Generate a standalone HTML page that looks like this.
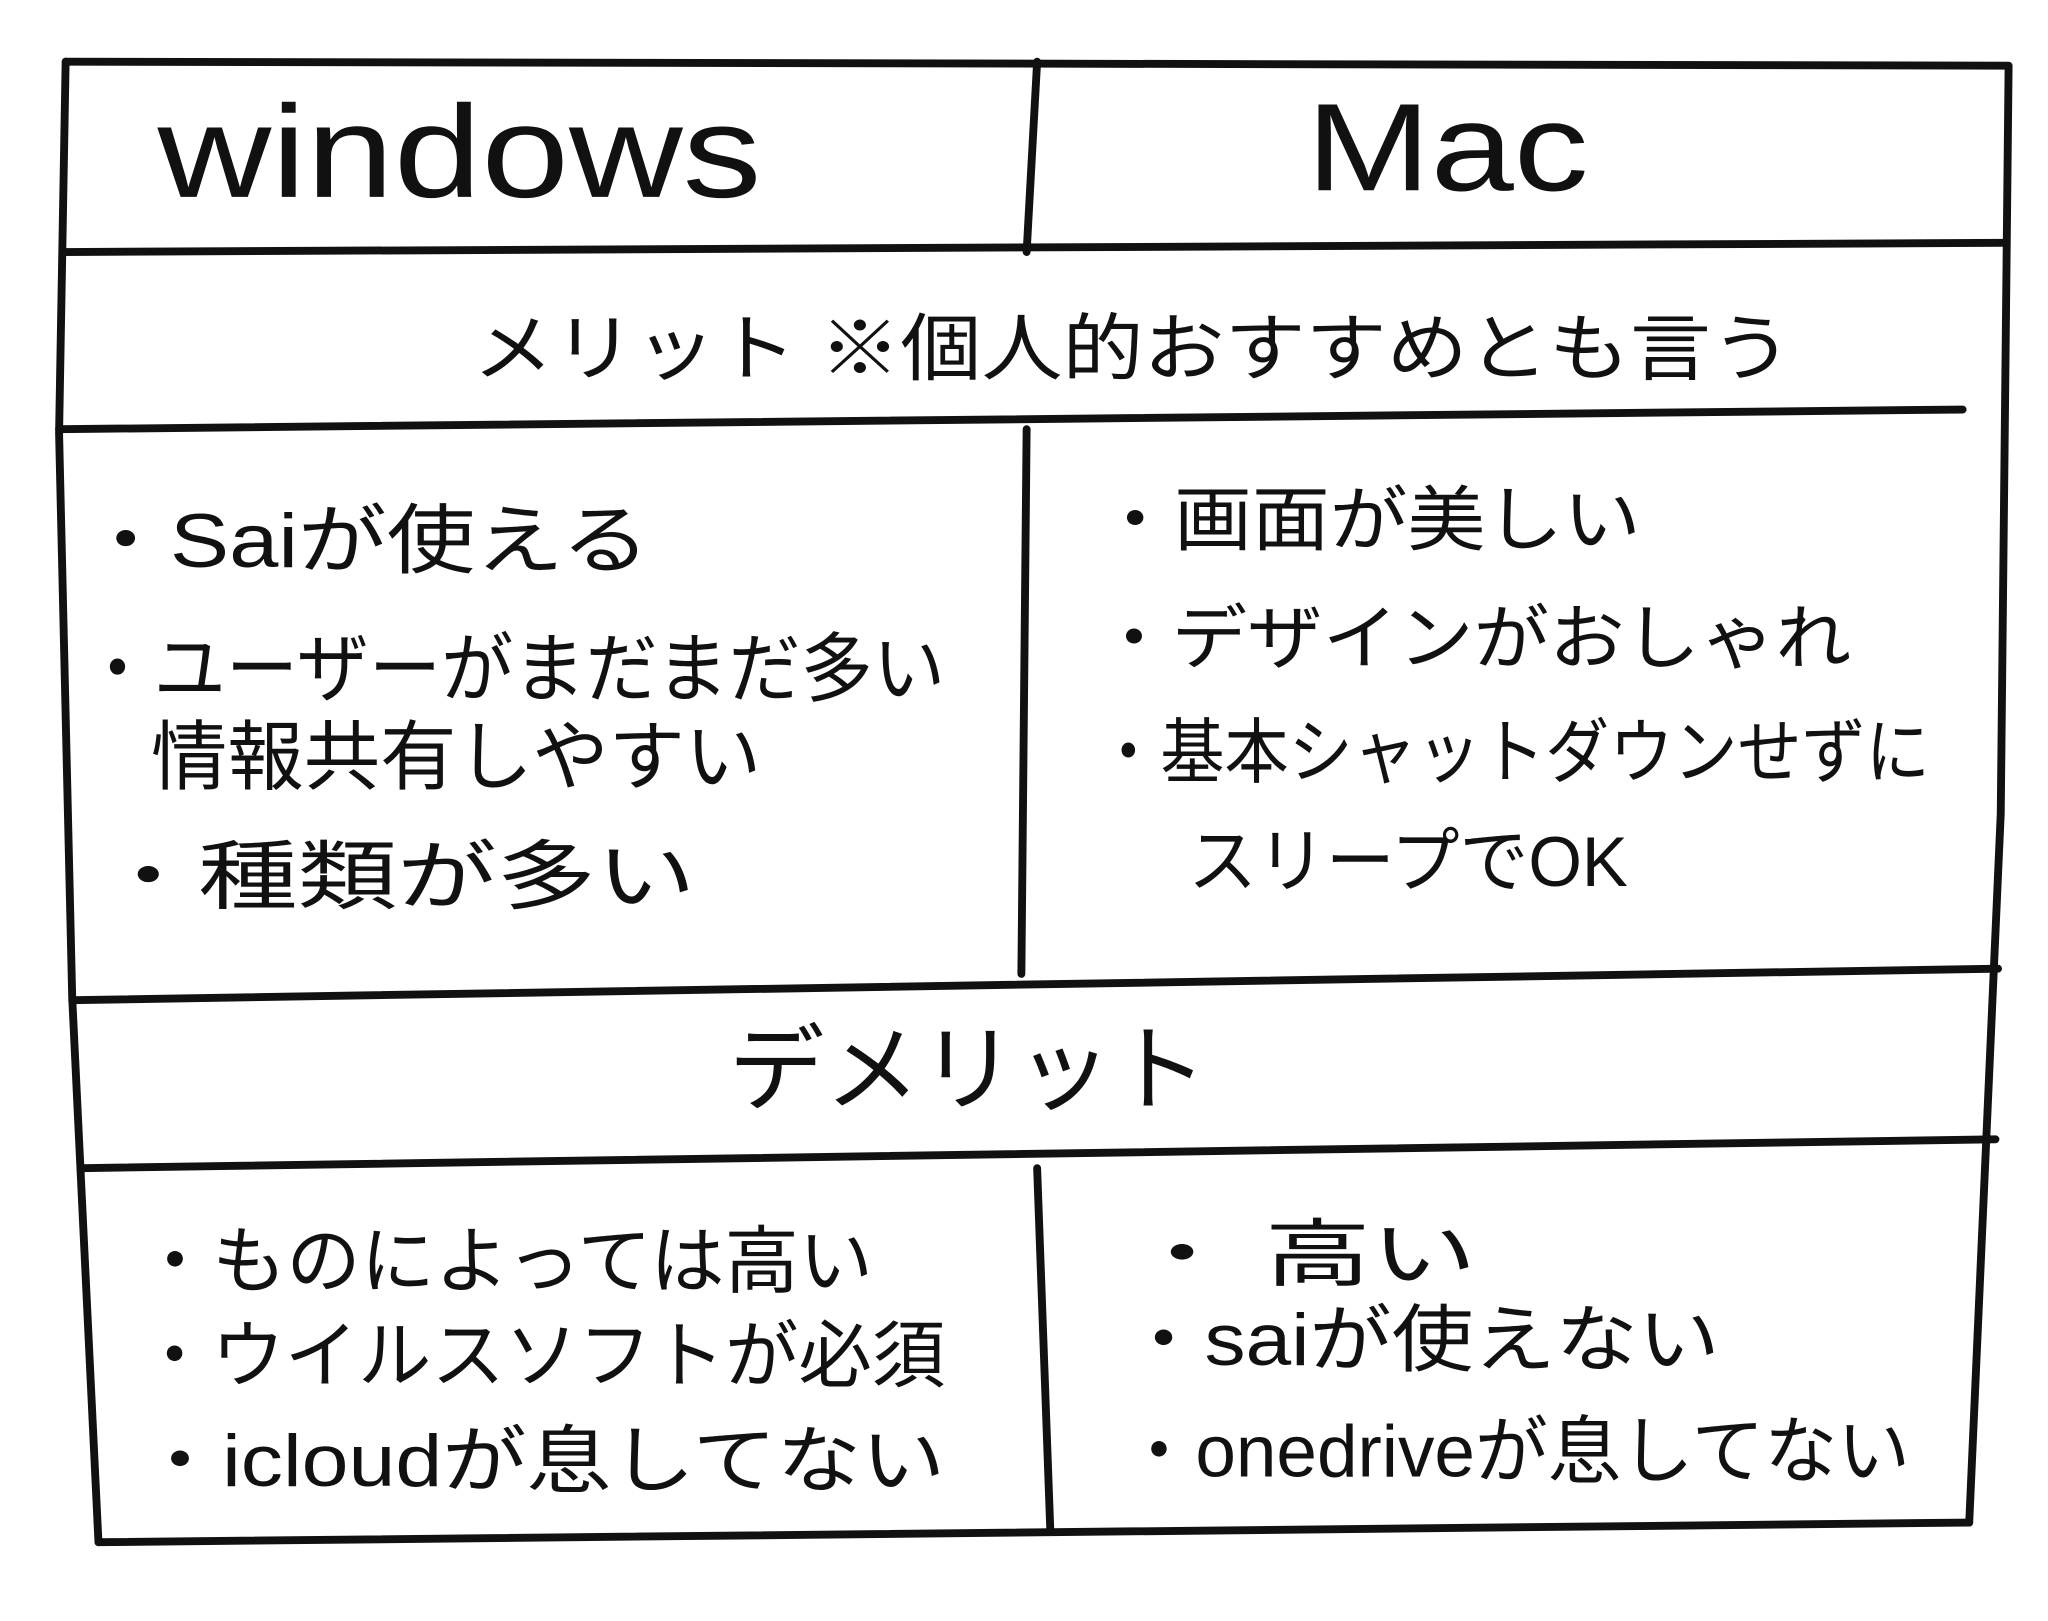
<!DOCTYPE html>
<html><head><meta charset="utf-8"><style>
html,body{margin:0;padding:0;background:#fff;}
svg{display:block;}
text{font-family:"Liberation Sans","Noto Sans CJK JP",sans-serif;font-weight:normal;fill:#111;}
</style></head><body>
<svg width="2048" height="1621" viewBox="0 0 1560 1235" preserveAspectRatio="none" xmlns="http://www.w3.org/2000/svg">
<g stroke="#111" stroke-width="6" fill="none" stroke-linecap="round" stroke-linejoin="round">
<path d="M50 47 L1530 50 L1524 620 L1500 1160"/>
<path d="M50 47 L45 330 L55 760 L75 1175"/>
<path d="M75 1175 L1500 1160"/>
<path d="M48 192 L1525 185"/>
<path d="M790 47 L782 192"/>
<path d="M45 327 L1495 312"/>
<path d="M782 327 L778 742"/>
<path d="M55 762 L1522 738"/>
<path d="M62 890 L1520 868"/>
<path d="M790 890 L800 1165"/>
</g>
<text x="120" y="150" font-size="100" textLength="460" lengthAdjust="spacingAndGlyphs">windows</text>
<text x="995" y="145" font-size="95" textLength="215" lengthAdjust="spacingAndGlyphs">Mac</text>
<text x="360" y="285" font-size="56" textLength="1005" lengthAdjust="spacingAndGlyphs">メリット ※個人的おすすめとも言う</text>

<g font-size="58">
<text x="62" y="432" textLength="433" lengthAdjust="spacingAndGlyphs">・Saiが使える</text>
<text x="62" y="530" textLength="658" lengthAdjust="spacingAndGlyphs">・ユーザーがまだまだ多い</text>
<text x="115" y="597" textLength="465" lengthAdjust="spacingAndGlyphs">情報共有しやすい</text>
<text x="75" y="688" textLength="455" lengthAdjust="spacingAndGlyphs">・種類が多い</text>
</g>
<g font-size="54">
<text x="835" y="415" textLength="415" lengthAdjust="spacingAndGlyphs">・画面が美しい</text>
<text x="835" y="505" textLength="575" lengthAdjust="spacingAndGlyphs">・デザインがおしゃれ</text>
<text x="835" y="592" textLength="635" lengthAdjust="spacingAndGlyphs">・基本シャットダウンせずに</text>
<text x="905" y="675" textLength="335" lengthAdjust="spacingAndGlyphs">スリープでOK</text>
</g>
<text x="555" y="840" font-size="72" textLength="365" lengthAdjust="spacingAndGlyphs">デメリット</text>
<g font-size="56">
<text x="105" y="980" textLength="560" lengthAdjust="spacingAndGlyphs">・ものによっては高い</text>
<text x="105" y="1052" textLength="615" lengthAdjust="spacingAndGlyphs">・ウイルスソフトが必須</text>
<text x="105" y="1132" textLength="615" lengthAdjust="spacingAndGlyphs">・icloudが息してない</text>
<text x="860" y="975" textLength="265" lengthAdjust="spacingAndGlyphs">・ 高い</text>
<text x="855" y="1040" textLength="455" lengthAdjust="spacingAndGlyphs">・saiが使えない</text>
<text x="855" y="1125" textLength="600" lengthAdjust="spacingAndGlyphs">・onedriveが息してない</text>
</g>
</svg>
</body></html>
